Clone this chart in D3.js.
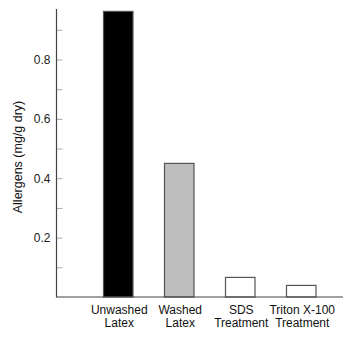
<!DOCTYPE html>
<html><head><meta charset="utf-8">
<script src="https://cdn.jsdelivr.net/npm/d3@7"></script>
<style>body{margin:0;background:#fff}svg{display:block}</style>
</head><body>
<svg id="c" width="364" height="337"></svg>
<script>
const categories = [["Unwashed","Latex"],["Washed","Latex"],["SDS","Treatment"],["Triton X-100","Treatment"]];
const values = [0.962, 0.450, 0.066, 0.039];
const fills = ["#000000", "#bdbdbd", "#ffffff", "#ffffff"];
const majorTicks = [0.2, 0.4, 0.6, 0.8];
const minorTicks = [0.1, 0.3, 0.5, 0.7, 0.9];
const yLabel = "Allergens (mg/g dry)";

const svg = d3.select("#c");
const font = "'Liberation Sans', Arial, sans-serif";
const y = d3.scaleLinear().domain([0, 0.97]).range([297, 9]);
const x = d3.scaleBand().domain(categories.map((d,i)=>i)).range([72.5, 347]).paddingInner(0.5).paddingOuter(0.5);
const axisX = 56.5;

// bars
svg.selectAll("rect.bar").data(values).join("rect")
  .attr("x", (d,i)=>x(i)+0.5).attr("width", x.bandwidth()-1)
  .attr("y", d=>y(d)).attr("height", d=>y(0)-y(d))
  .attr("fill", (d,i)=>fills[i]).attr("stroke", "#555").attr("stroke-width", 1.2);

// y axis
const ya = svg.append("g").attr("transform", `translate(${axisX},0)`);
ya.call(d3.axisRight(y).tickValues(majorTicks).tickSize(6).tickFormat(d3.format(".1f")));
ya.select(".domain").remove();
ya.selectAll(".tick line").attr("stroke", "#aaa");
ya.selectAll(".tick text").attr("x", -6).attr("text-anchor", "end")
  .attr("font-family", font).attr("font-size", 12).attr("fill", "#222");
const ym = svg.append("g").attr("transform", `translate(${axisX},0)`);
ym.call(d3.axisRight(y).tickValues(minorTicks).tickSize(6).tickFormat(""));
ym.select(".domain").remove();
ym.selectAll(".tick line").attr("stroke", "#aaa");

svg.append("line").attr("x1", axisX).attr("x2", axisX).attr("y1", 9).attr("y2", y(0)+0.5)
  .attr("stroke", "#444").attr("stroke-width", 1.2);
svg.append("line").attr("x1", axisX).attr("x2", 343).attr("y1", y(0)).attr("y2", y(0))
  .attr("stroke", "#444").attr("stroke-width", 1.2);

// x labels
const lab = svg.selectAll("text.xl").data(categories).join("text")
  .attr("font-family", font).attr("font-size", 12).attr("fill", "#111").attr("text-anchor", "middle")
  .attr("transform", (d,i)=>`translate(${x(i)+x.bandwidth()/2+1},314)`);
lab.selectAll("tspan").data(d=>d).join("tspan").attr("x", 0).attr("dy", (d,j)=>j? 13 : 0).text(d=>d);

svg.append("text").attr("transform", "translate(22,157) rotate(-90)")
  .attr("text-anchor", "middle").attr("font-family", font).attr("font-size", 12.5).attr("fill", "#111")
  .text(yLabel);
</script>
</body></html>
